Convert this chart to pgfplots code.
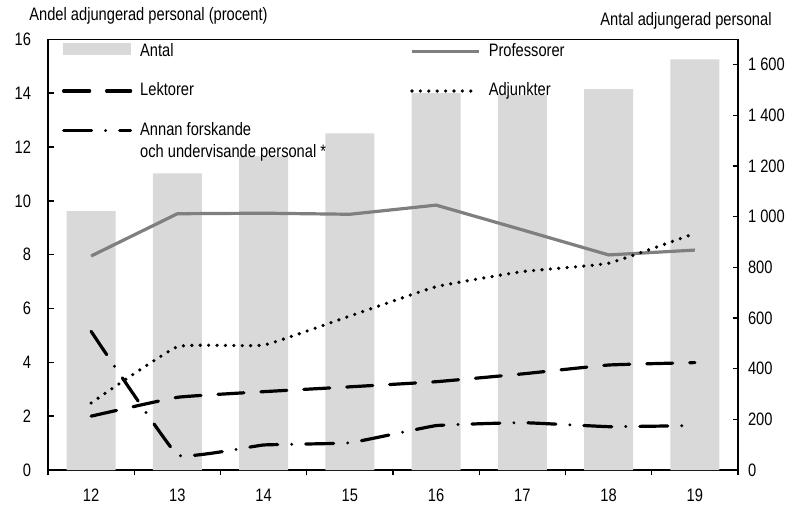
\documentclass[border=0pt]{standalone}
\usepackage{fontspec}
\setmainfont[FakeStretch=0.815]{Liberation Sans}
\usepackage{pgfplots}
\pgfplotsset{compat=1.18}
\definecolor{barc}{HTML}{D9D9D9}
\definecolor{profc}{HTML}{7F7F7F}
\pgfplotsset{
  every axis/.append style={font=\fontsize{9pt}{11pt}\selectfont},
  /pgf/number format/assume math mode=true,
}
\begin{document}
\begin{tikzpicture}
\begin{axis}[
  scale only axis, width=345pt, height=215.35pt,
  xmin=11.5, xmax=19.5, ymin=0, ymax=1700,
  axis line style={line width=0.8pt},
  xtick={11.5,12.5,...,19.5}, xticklabels={},
  xtick pos=bottom, xtick align=outside,
  x tick style={line width=0.7pt, black},
  major tick length=2.7pt,
  extra x ticks={12,13,14,15,16,17,18,19},
  extra x tick labels={12,13,14,15,16,17,18,19},
  extra x tick style={major tick length=0pt, xticklabel style={yshift=-6pt}},
  ytick={0,200,...,1600}, ytick pos=right, yticklabel pos=right, ytick align=inside,
  y tick style={line width=0.7pt, black},
  yticklabel style={xshift=1.5pt},
  /pgf/number format/.cd, 1000 sep={\ },
]
\addplot[ybar, bar width=24.5pt, fill=barc, draw=none] table {
x y
12 1022
13 1171
14 1238
15 1329
16 1488
17 1480
18 1503
19 1621
};
\coordinate (O) at (rel axis cs:0,0);
\coordinate (NW) at (rel axis cs:0,1);
\coordinate (NE) at (rel axis cs:1,1);
\end{axis}
\begin{axis}[
  scale only axis, width=345pt, height=215.35pt,
  xmin=11.5, xmax=19.5, ymin=0, ymax=16,
  hide x axis,
  axis y line*=left,
  axis line style={line width=0.8pt},
  ytick={0,2,...,16}, ytick align=inside,
  y tick style={line width=0.7pt, black},
  major tick length=3pt,
  yticklabel style={xshift=-5pt},
  legend columns=2,
  legend cell align=left,
  legend style={draw=none, fill=none, inner sep=0pt, outer sep=0pt,
    at={(0,1)}, anchor=north west, xshift=7pt, yshift=-1.35pt,
    column sep=0pt, row sep=10.25pt,
    nodes={inner sep=0pt, text height=7pt, text depth=2.5pt},
    /tikz/every odd column/.append style={column sep=4pt}},
  legend image code/.code={\draw[#1] (0pt,0pt) -- (33.5pt,0pt);},
]
\addlegendimage{legend image code/.code={\fill[barc] (0pt,-1.5pt) rectangle (33.5pt,4.3pt);}}
\addlegendentry{\makebox[135pt][l]{Antal}}
\addplot[profc, line width=1.6pt] table {
x y
12 7.95
13 9.52
14 9.54
15 9.50
16 9.84
17 8.92
18 7.99
19 8.17
};
\addlegendentry{Professorer}
\addplot[black, line width=1.6pt, line cap=round, dash pattern=on 13pt off 8.5pt, smooth, tension=0.2] table {
x y
12 2.00
13 2.70
14 2.91
15 3.09
16 3.28
17 3.57
18 3.90
19 3.99
};
\addlegendentry{\makebox[135pt][l]{Lektorer}}
\addplot[black, line width=1.8pt, line cap=round, dash pattern=on 0pt off 4.2pt, smooth, tension=0.2] table {
x y
12 2.49
13 4.58
14 4.64
15 5.72
16 6.81
17 7.37
18 7.68
19 8.79
};
\addlegendentry{Adjunkter}
\addplot[black, line width=1.6pt, line cap=round, dash pattern=on 14pt off 7pt on 0pt off 7pt, smooth, tension=0.15] table {
x y
12 5.15
13 0.56
14 0.93
15 1.01
16 1.65
17 1.76
18 1.61
19 1.65
};
\addlegendentry{\makebox[135pt][l]{\begin{tabular}[t]{@{}l@{}}Annan forskande\\och undervisande personal *\end{tabular}}}
\end{axis}
\node[anchor=base west, inner sep=0pt, font=\fontsize{9pt}{11pt}\selectfont] at ([xshift=-9.5pt, yshift=9.65pt]NW) {Andel adjungerad personal (procent)};
\node[anchor=base east, inner sep=0pt, font=\fontsize{9pt}{11pt}\selectfont] at ([xshift=17pt, yshift=7.15pt]NE) {Antal adjungerad personal};
\pgfresetboundingbox
\path[use as bounding box] ([xshift=-24pt, yshift=-17.5pt]O) rectangle ++(399.5pt,252.5pt);
\end{tikzpicture}
\end{document}
